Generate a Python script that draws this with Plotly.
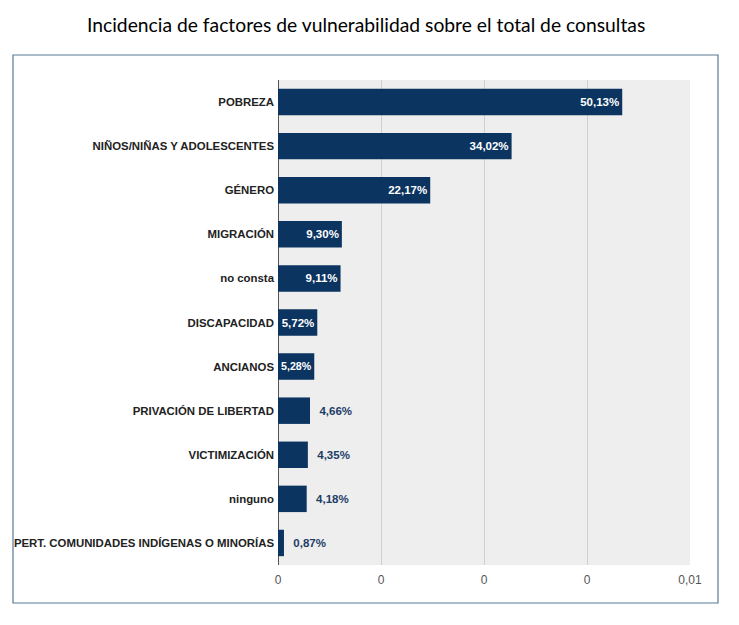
import plotly.graph_objects as go

categories = ["POBREZA", "NIÑOS/NIÑAS Y ADOLESCENTES", "GÉNERO", "MIGRACIÓN", "no consta",
              "DISCAPACIDAD", "ANCIANOS", "PRIVACIÓN DE LIBERTAD", "VICTIMIZACIÓN", "ninguno",
              "PERT. COMUNIDADES INDÍGENAS O MINORÍAS"]
values = [50.13, 34.02, 22.17, 9.30, 9.11, 5.72, 5.28, 4.66, 4.35, 4.18, 0.87]
tick_vals = [0, 15, 30, 45, 60]
tick_text = ["0", "0", "0", "0", "0,01"]

inside = [v > 5 for v in values]
labels = [("" if i else "\u00a0\u00a0") + f"{v:.2f}".replace(".", ",") + "%"
          for v, i in zip(values, inside)]
positions = ["inside" if i else "outside" for i in inside]
text_colors = ["#ffffff" if i else "#1d3c66" for i in inside]

# page has an 8px body offset; compensate so visible positions match
OFF = 8
W, H = 739, 625
L, R, T, B = 278 - OFF, W - 690 + OFF, 80 - OFF, H - 565 + OFF

fig = go.Figure(go.Bar(
    y=categories, x=values, orientation="h",
    marker=dict(color="#0b3461", line=dict(width=0)),
    text=labels, textposition=positions, insidetextanchor="end",
    textfont=dict(family="Liberation Sans", size=11.5, color=text_colors),
    outsidetextfont=dict(family="Liberation Sans", size=11.5, color="#1d3c66"),
    insidetextfont=dict(family="Liberation Sans", size=11.5, color="#ffffff"),
    texttemplate="<b>%{text}</b>", cliponaxis=False,
    width=0.6,
))

fig.update_layout(
    width=W, height=H,
    margin=dict(l=L, r=R, t=T, b=B),
    paper_bgcolor="white", plot_bgcolor="#eeeeee",
    showlegend=False,
    font=dict(family="Liberation Sans", size=12, color="#222222"),
    xaxis=dict(range=[0, 60], tickvals=tick_vals, ticktext=tick_text,
               showgrid=True, gridcolor="#d0d0d0", gridwidth=1,
               zeroline=True, zerolinecolor="#555555", zerolinewidth=1,
               tickfont=dict(family="Liberation Sans", size=12, color="#555555"),
               ticks="", ticklabelstandoff=6, fixedrange=True, automargin=False),
    yaxis=dict(autorange="reversed", showgrid=False, ticks="",
               tickfont=dict(family="Liberation Sans", size=11.4, color="#222222", weight="bold"),
               ticklabelstandoff=3, fixedrange=True, automargin=False),
    annotations=[dict(text="Incidencia de factores de vulnerabilidad sobre el total de consultas",
                      xref="paper", yref="paper", x=0.5, y=0, showarrow=False,
                      xanchor="center", yanchor="middle",
                      font=dict(family="Lato", size=19.3, color="#000000"))],
    shapes=[dict(type="rect", xref="paper", yref="paper", x0=0, x1=1, y0=0, y1=1,
                 line=dict(color="#5b7a94", width=1.2), fillcolor="rgba(0,0,0,0)")],
)

plot_h = H - T - B
plot_w = W - L - R
def px_x(x):
    return (x - OFF - L) / plot_w
def px_y(y):
    return (H - B - (y - OFF)) / plot_h

fig.layout.annotations[0].update(x=px_x(366), y=px_y(25))
fig.layout.shapes[0].update(x0=px_x(13), x1=px_x(718), y0=px_y(603), y1=px_y(55))

fig.write_html("out.html")
